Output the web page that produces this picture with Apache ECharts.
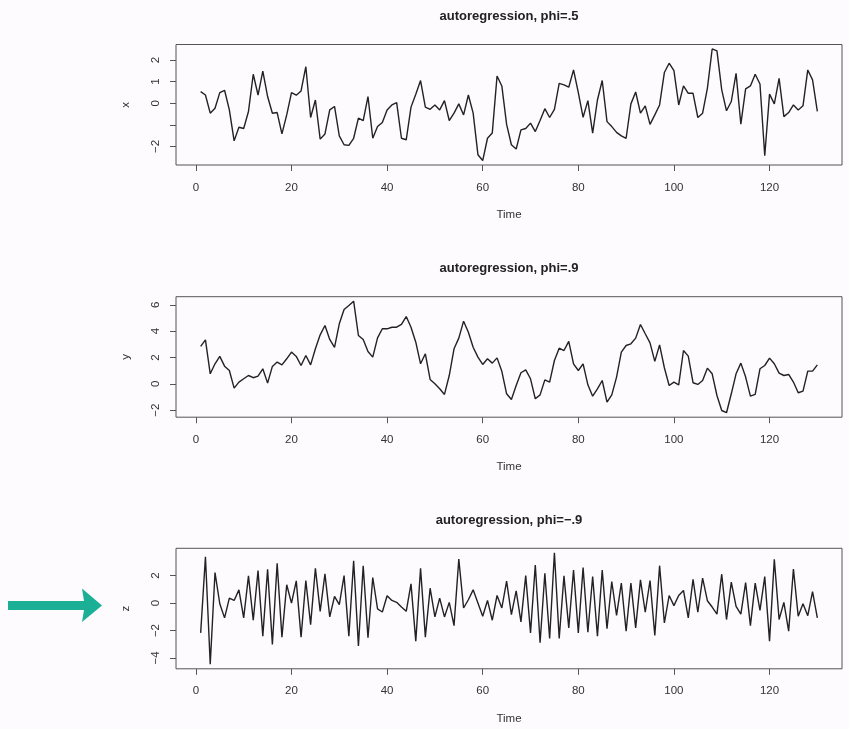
<!DOCTYPE html>
<html>
<head>
<meta charset="utf-8">
<title>autoregression</title>
<script src="https://cdn.jsdelivr.net/npm/echarts@6/dist/echarts.min.js"></script>
<style>
  html, body { margin: 0; padding: 0; background: #fdfbfd; }
  #chart { width: 849px; height: 729px; }
</style>
</head>
<body>
<div id="chart"></div>
<script>
// Simulated AR(1) series, one value per time step (t = 1..130)
const seriesX = [
  0.54, 0.38, -0.46, -0.23, 0.49, 0.60, -0.31, -1.74, -1.11, -1.17,
  -0.38, 1.34, 0.38, 1.48, 0.31, -0.46, -0.43, -1.42, -0.54, 0.49,
  0.37, 0.57, 1.69, -0.66, 0.15, -1.66, -1.42, -0.31, -0.15, -1.51,
  -1.92, -1.95, -1.62, -0.69, -0.80, 0.31, -1.62, -1.08, -0.89, -0.31,
  -0.08, 0.03, -1.62, -1.69, -0.18, 0.42, 1.05, -0.18, -0.28, -0.08,
  -0.31, 0.12, -0.80, -0.46, -0.03, -0.54, 0.38, -0.46, -2.38, -2.65,
  -1.62, -1.38, 1.26, 0.80, -0.98, -1.92, -2.12, -1.23, -1.17, -0.92,
  -1.31, -0.80, -0.25, -0.66, -0.28, 0.92, 0.85, 0.74, 1.54, 0.49,
  -0.65, 0.12, -1.38, 0.15, 1.05, -0.85, -1.08, -1.35, -1.51, -1.62,
  -0.03, 0.52, -0.46, -0.12, -0.98, -0.54, -0.08, 1.42, 1.85, 1.51,
  -0.08, 0.80, 0.46, 0.46, -0.66, -0.46, 0.69, 2.51, 2.42, 0.62,
  -0.35, 0.08, 1.38, -0.97, 0.66, 0.80, 1.34, 0.89, -2.43, 0.42,
  -0.03, 1.15, -0.62, -0.43, -0.08, -0.31, -0.12, 1.54, 1.08, -0.38
];
const seriesY = [
  2.84, 3.34, 0.76, 1.52, 2.08, 1.34, 1.01, -0.33, 0.13, 0.38,
  0.63, 0.46, 0.58, 1.14, 0.05, 1.32, 1.65, 1.44, 1.90, 2.41,
  2.08, 1.39, 2.15, 1.44, 2.66, 3.72, 4.43, 3.37, 2.76, 4.56,
  5.65, 5.95, 6.28, 3.67, 3.37, 2.46, 2.03, 3.49, 4.18, 4.18,
  4.30, 4.30, 4.51, 5.11, 4.30, 3.16, 1.52, 2.28, 0.33, 0.00,
  -0.38, -0.81, 0.63, 2.66, 3.47, 4.76, 3.92, 2.78, 2.03, 1.47,
  1.90, 1.57, 1.97, 0.95, -0.76, -1.19, -0.13, 0.84, 1.06, 0.38,
  -1.14, -0.84, 0.30, 0.13, 1.77, 2.71, 2.53, 3.22, 1.52, 1.01,
  1.52, -0.08, -0.94, -0.38, 0.25, -1.39, -0.84, 0.51, 2.41, 2.91,
  3.04, 3.47, 4.51, 3.80, 3.11, 1.70, 2.96, 1.22, -0.13, 0.13,
  -0.08, 2.53, 2.10, 0.08, -0.05, 0.25, 1.19, 0.76, -0.89, -2.03,
  -2.20, -0.76, 0.76, 1.57, 0.51, -0.94, -0.81, 1.14, 1.39, 1.95,
  1.52, 0.81, 0.63, 0.71, 0.13, -0.68, -0.56, 0.96, 0.96, 1.44
];
const seriesZ = [
  -2.17, 3.37, -4.46, 2.22, -0.05, -1.08, 0.36, 0.19, 0.96, -1.08,
  1.98, -1.25, 2.36, -2.41, 2.46, -3.01, 2.89, -2.48, 1.33, 0.00,
  1.61, -2.48, 1.64, -1.57, 2.53, -0.60, 2.12, -1.01, 0.48, -0.12,
  2.00, -2.41, 3.08, -3.13, 2.72, -2.53, 1.86, -0.43, -0.65, 0.53,
  0.19, 0.05, -0.29, -0.60, 1.40, -2.77, 2.53, -2.48, 1.08, -1.01,
  0.36, -1.01, 0.05, -1.64, 3.20, -0.36, 0.24, 0.96, 0.00, -0.96,
  0.19, -1.25, 0.55, -0.36, 1.60, -0.84, 0.89, -1.37, 2.00, -2.17,
  2.77, -2.89, 2.17, -2.58, 3.66, -2.58, 1.98, -1.81, 2.41, -2.17,
  2.58, -2.12, 1.93, -2.41, 2.41, -1.86, 1.57, -0.89, 1.45, -2.05,
  1.45, -1.81, 1.69, -0.67, 1.64, -2.36, 2.72, -1.45, 0.55, -0.19,
  0.55, 0.92, -1.08, 1.73, -0.67, 1.81, 0.17, -0.29, -0.80, 2.10,
  -1.20, 1.52, -0.24, -0.80, 1.49, -1.64, 1.45, -0.53, 1.93, -2.77,
  3.18, -1.20, 0.05, -2.05, 2.48, -0.96, -0.05, -0.92, 0.84, -1.08
];

const panelTitles = ['autoregression, phi=.5', 'autoregression, phi=.9', 'autoregression, phi=\u2212.9'];
const panelNames = ['x', 'y', 'z'];
const timeTicks = [0, 20, 40, 60, 80, 100, 120];
const yTicks = [[-2, -1, 0, 1, 2], [-2, 0, 2, 4, 6], [-4, -2, 0, 2]];
const yTickLabels = [[-2, 0, 1, 2], [-2, 0, 2, 4, 6], [-4, -2, 0, 2]];
const allSeries = [seriesX, seriesY, seriesZ];

const panelTops = [44.5, 296.7, 548.3];
const panelHeight = 120.5;
const plotLeft = 176;
const plotWidth = 666;
const FONT = '"Liberation Sans", Arial, Helvetica, sans-serif';

// R-style axis extent: data range widened by 4% on each side
function extent(lo, hi) {
  const pad = (hi - lo) * 0.04;
  return [lo - pad, hi + pad];
}
const fmtMinus = v => String(v).replace('-', '\u2212');

const grids = [], xAxes = [], yAxes = [], series = [], titles = [];

allSeries.forEach((vals, k) => {
  const top = panelTops[k];
  grids.push({
    left: plotLeft, width: plotWidth, top: top, height: panelHeight,
    show: true, borderColor: '#555', borderWidth: 1, backgroundColor: 'transparent'
  });
  titles.push({
    text: panelTitles[k],
    left: plotLeft + plotWidth / 2,
    top: top - 34.5,
    textAlign: 'center',
    padding: 0,
    textStyle: { fontFamily: FONT, fontSize: 13, fontWeight: 'bold', color: '#222' }
  });
  const xr = extent(1, vals.length);
  xAxes.push({
    gridIndex: k, type: 'value', min: xr[0], max: xr[1], position: 'bottom',
    axisLine: { show: false, onZero: false },
    splitLine: { show: false },
    axisTick: { show: true, inside: false, length: 6, customValues: timeTicks,
                lineStyle: { color: '#555', width: 1 } },
    axisLabel: { show: true, customValues: timeTicks, margin: 16.5,
                 fontFamily: FONT, fontSize: 11.5, color: '#333' },
    name: 'Time', nameLocation: 'middle', nameGap: 44,
    nameTextStyle: { fontFamily: FONT, fontSize: 11.5, color: '#333' }
  });
  const yr = extent(Math.min(...vals), Math.max(...vals));
  yAxes.push({
    gridIndex: k, type: 'value', min: yr[0], max: yr[1], position: 'left',
    axisLine: { show: false, onZero: false },
    splitLine: { show: false },
    axisTick: { show: true, inside: false, length: 6, customValues: yTicks[k],
                lineStyle: { color: '#555', width: 1 } },
    axisLabel: { show: true, customValues: yTickLabels[k], rotate: 90, margin: 14,
                 formatter: fmtMinus,
                 fontFamily: FONT, fontSize: 11.5, color: '#333' },
    name: panelNames[k], nameLocation: 'middle', nameGap: 44, nameRotate: 90,
    nameTextStyle: { fontFamily: FONT, fontSize: 11.5, color: '#333' }
  });
  series.push({
    type: 'line', xAxisIndex: k, yAxisIndex: k,
    data: vals.map((v, i) => [i + 1, v]),
    showSymbol: false, symbol: 'none',
    lineStyle: { color: '#222', width: 1.4 },
    silent: true
  });
});

const chart = echarts.init(document.getElementById('chart'), null, { renderer: 'canvas' });
chart.setOption({
  backgroundColor: '#fdfbfd',
  animation: false,
  title: titles,
  grid: grids,
  xAxis: xAxes,
  yAxis: yAxes,
  series: series,
  graphic: [{
    // pointer arrow next to the third panel
    type: 'polygon',
    shape: { points: [[8, 601], [84, 601], [82, 588.5], [102, 605.5], [82, 622], [84, 610], [8, 610]] },
    style: { fill: '#1bb096' }
  }]
});
</script>
</body>
</html>
